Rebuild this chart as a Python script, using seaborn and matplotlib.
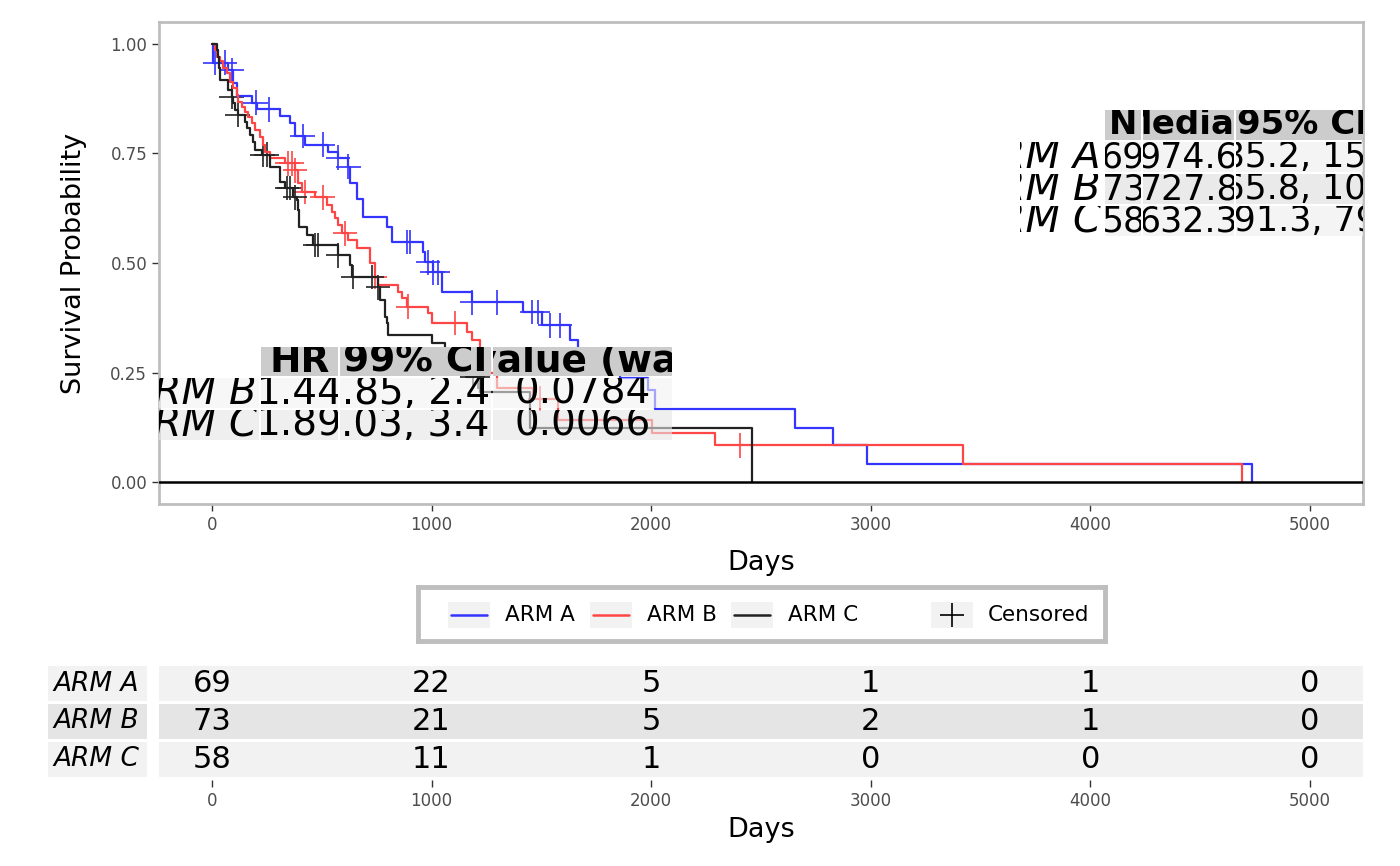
import numpy as np
import pandas as pd
import matplotlib
matplotlib.use("Agg")
import matplotlib.pyplot as plt
from matplotlib.patches import Rectangle
import seaborn as sns

# curvas KM: tiempo del escalon y supervivencia despues del escalon
arm_a_time = [0, 5, 73, 96, 114, 182, 205, 310, 355, 378, 424, 528, 574, 619, 628, 660, 688, 797,
              820, 961, 970, 1006, 1047, 1184, 1416, 1503, 1630, 1667, 1767, 1858, 1985, 2017,
              2655, 2828, 2983, 4736]
arm_a_surv = [1.0, 0.957, 0.94, 0.91, 0.88, 0.866, 0.851, 0.836, 0.82, 0.79, 0.77, 0.753, 0.74,
              0.72, 0.683, 0.645, 0.605, 0.582, 0.548, 0.525, 0.502, 0.479, 0.434, 0.41, 0.388,
              0.358, 0.324, 0.29, 0.26, 0.237, 0.21, 0.167, 0.123, 0.084, 0.042, 0.0]
arm_a_cens = [14, 59, 91, 200, 260, 414, 505, 574, 620, 888, 902, 984, 1006, 1029, 1184, 1298,
              1457, 1484, 1539, 1585]

arm_b_time = [0, 14, 23, 36, 50, 68, 82, 96, 114, 118, 137, 150, 164, 182, 196, 219, 232, 241,
              264, 332, 378, 392, 410, 469, 524, 546, 560, 574, 592, 619, 660, 719, 742, 756,
              847, 865, 888, 984, 1002, 1161, 1184, 1220, 1266, 1298, 1462, 1576, 2004, 2290,
              3420, 4690]
arm_b_surv = [1.0, 0.985, 0.97, 0.96, 0.945, 0.934, 0.913, 0.9, 0.884, 0.868, 0.856, 0.845,
              0.833, 0.82, 0.804, 0.788, 0.77, 0.753, 0.74, 0.728, 0.712, 0.683, 0.662, 0.65,
              0.632, 0.616, 0.603, 0.587, 0.568, 0.553, 0.534, 0.5, 0.468, 0.45, 0.434, 0.42,
              0.4, 0.386, 0.363, 0.342, 0.324, 0.28, 0.25, 0.215, 0.19, 0.142, 0.112, 0.084,
              0.042, 0.0]
arm_b_cens = [346, 364, 378, 424, 505, 606, 742, 893, 1107, 1494, 2404]

arm_c_time = [0, 23, 27, 30, 36, 73, 91, 96, 105, 118, 150, 159, 173, 187, 196, 228, 264, 310,
              332, 369, 387, 392, 396, 433, 460, 574, 628, 637, 756, 765, 788, 797, 801, 1002,
              1061, 1129, 1161, 1220, 1448, 2459]
arm_c_surv = [1.0, 0.985, 0.97, 0.945, 0.918, 0.895, 0.879, 0.865, 0.849, 0.838, 0.822, 0.808,
              0.792, 0.776, 0.758, 0.747, 0.719, 0.685, 0.671, 0.65, 0.644, 0.621, 0.582, 0.564,
              0.541, 0.518, 0.495, 0.468, 0.445, 0.416, 0.377, 0.363, 0.336, 0.317, 0.29, 0.26,
              0.24, 0.205, 0.123, 0.0]
arm_c_cens = [91, 118, 232, 250, 342, 355, 378, 469, 483, 574, 642, 729, 756, 1188, 1211]

arms = ["ARM A", "ARM B", "ARM C"]
colores = ["#3434FF", "#FF4646", "#222222"]

# tabla de riesgo
risk_times = [0, 1000, 2000, 3000, 4000, 5000]
risk_a = [69, 22, 5, 1, 1, 0]
risk_b = [73, 21, 5, 2, 1, 0]
risk_c = [58, 11, 1, 0, 0, 0]

# tabla de medianas
med_cols = ["N", "Median", "95% CI"]
med_n = ["69", "73", "58"]
med_median = ["974.6", "727.8", "632.3"]
med_ci = ["(685.2, 1503.2)", "(565.8, 1006.8)", "(391.3, 792.1)"]

# tabla HR
hr_cols = ["HR", "99% CI", "p-value (wald)"]
hr_arms = ["ARM B", "ARM C"]
hr_val = ["1.44", "1.89"]
hr_ci = ["(0.85, 2.45)", "(1.03, 3.45)"]
hr_p = ["0.0784", "0.0066"]

sns.set_style("white")
plt.rcParams["font.family"] = ["DejaVu Sans"]
plt.rcParams["text.color"] = "black"
plt.rcParams["axes.labelcolor"] = "black"

W, H = 1400, 866
fig = plt.figure(figsize=(14, 8.66), dpi=100)

# panel principal (pixeles 159-1363 x 22-504)
PX0, PX1, PY0, PY1 = 159, 1363, 22, 504
ax = fig.add_axes([PX0 / W, 1 - PY1 / H, (PX1 - PX0) / W, (PY1 - PY0) / H])

curvas = pd.concat([
    pd.DataFrame({"time": t, "surv": s, "arm": a})
    for t, s, a in zip([arm_a_time, arm_b_time, arm_c_time],
                       [arm_a_surv, arm_b_surv, arm_c_surv], arms)
])


def surv_at(times, survs, c):
    i = np.searchsorted(times, c, side="right") - 1
    return survs[i]


cens = pd.concat([
    pd.DataFrame({"time": cs, "surv": [surv_at(t, s, c) for c in cs], "arm": a})
    for t, s, cs, a in zip([arm_a_time, arm_b_time, arm_c_time],
                           [arm_a_surv, arm_b_surv, arm_c_surv],
                           [arm_a_cens, arm_b_cens, arm_c_cens], arms)
])

pal = dict(zip(arms, colores))
sns.lineplot(data=curvas, x="time", y="surv", hue="arm", palette=pal, estimator=None,
             sort=False, drawstyle="steps-post", linewidth=1.6, legend=False, ax=ax)
sns.scatterplot(data=cens, x="time", y="surv", hue="arm", palette=pal, marker="+", s=320,
                linewidth=1.2, legend=False, ax=ax)
ax.axhline(0, color="black", lw=1.8, zorder=8)

ax.set_xlim(-241, 5241)
ax.set_ylim(-0.05, 1.05)
ax.set_xticks(risk_times)
ax.set_yticks([0, 0.25, 0.5, 0.75, 1.0])
ax.set_yticklabels(["0.00", "0.25", "0.50", "0.75", "1.00"])
ax.tick_params(colors="#333333", labelcolor="#4D4D4D", labelsize=12, length=5, width=1,
               direction="out", bottom=True, left=True)
ax.set_xlabel("Days", fontsize=19.5)
ax.set_ylabel("Survival Probability", fontsize=19.5)
ax.xaxis.set_label_coords(0.5, -0.096)
ax.yaxis.set_label_coords(-0.06, 0.5)
for sp in ax.spines.values():
    sp.set_color("#BEBEBE")
    sp.set_linewidth(2)


def fx(px):
    return (px - PX0) / (PX1 - PX0)


def fy(py):
    return (PY1 - py) / (PY1 - PY0)


def celda(x0, x1, y0, y1, texto, bg=None, alpha=1.0, ha="center", clip_x0=None, **kw):
    if bg is not None:
        ax.add_patch(Rectangle((fx(x0), fy(y1)), fx(x1) - fx(x0), fy(y0) - fy(y1),
                               transform=ax.transAxes, facecolor=bg, edgecolor="none",
                               alpha=alpha, zorder=5, clip_on=True))
    # recorte a la celda y al panel
    cx0 = max(x0 if clip_x0 is None else clip_x0, PX0)
    cx1 = min(x1, PX1)
    clip = Rectangle((fx(cx0), fy(y1)), fx(cx1) - fx(cx0), fy(y0) - fy(y1),
                     transform=ax.transAxes)
    xt = {"center": (x0 + x1) / 2, "right": x1 - 2, "left": x0 + 2}[ha]
    t = ax.text(fx(xt), fy((y0 + y1) / 2), texto, transform=ax.transAxes,
                ha=ha, va="center", zorder=6, clip_on=True, **kw)
    t.set_clip_path(clip)


row_bg = ["#F2F2F2", "#E5E5E5", "#F2F2F2"]
# tabla de medianas (arriba a la derecha)
med_hx = [(1105, 1141), (1143, 1234), (1236, 1368)]
med_x = [(1105, 1141), (1143, 1234), (1236, 1408)]
med_y = [(110, 140), (142, 172), (174, 204), (206, 236)]
for j, c in enumerate(med_cols):
    celda(*med_hx[j], *med_y[0], c, bg="#CCCCCC", fontsize=24.5, fontweight="bold")
for i in range(3):
    celda(1015, 1103, *med_y[i + 1], arms[i], ha="right", clip_x0=1020, fontsize=29,
          fontstyle="italic")
    for j, v in enumerate([med_n[i], med_median[i], med_ci[i]]):
        celda(*med_x[j], *med_y[i + 1], v, bg=row_bg[i], alpha=0.8, fontsize=25)

# tabla HR (abajo a la izquierda)
hr_bg = ["#F2F2F2", "#E5E5E5"]
hr_x = [(261, 338), (340, 491), (493, 672)]
hr_y = [(347, 376), (378, 408), (410, 440)]
for j, c in enumerate(hr_cols):
    celda(*hr_x[j], *hr_y[0], c, bg="#CCCCCC", fontsize=27, fontweight="bold")
for i in range(2):
    celda(100, 259, *hr_y[i + 1], hr_arms[i], bg=hr_bg[i], alpha=0.6, ha="right",
          fontsize=29, fontstyle="italic")
    for j, v in enumerate([hr_val[i], hr_ci[i], hr_p[i]]):
        celda(*hr_x[j], *hr_y[i + 1], v, bg=hr_bg[i], alpha=0.6, fontsize=28)

# leyenda
LX0, LX1, LY0, LY1 = 418, 1105, 587, 641
lax = fig.add_axes([LX0 / W, 1 - LY1 / H, (LX1 - LX0) / W, (LY1 - LY0) / H])
lax.set_xlim(0, LX1 - LX0)
lax.set_ylim(LY1 - LY0, 0)
lax.set_xticks([])
lax.set_yticks([])
for sp in lax.spines.values():
    sp.set_color("#BEBEBE")
    sp.set_linewidth(3.5)
key_x = [30, 172, 313, 513]
etiquetas = arms + ["Censored"]
for k, (kx, lab) in enumerate(zip(key_x, etiquetas)):
    lax.add_patch(Rectangle((kx, 15), 42, 26, facecolor="#F2F2F2", edgecolor="none"))
    if k < 3:
        lax.plot([kx + 3, kx + 39], [28, 28], color=colores[k], lw=1.8)
    else:
        lax.plot([kx + 21], [28], marker="+", color="black", ms=17, mew=1.2)
    lax.text(kx + 57, 28, lab, fontsize=15.5, va="center", ha="left")

# tabla de riesgo
RY0, RY1 = 663, 780
rax = fig.add_axes([PX0 / W, 1 - RY1 / H, (PX1 - PX0) / W, (RY1 - RY0) / H])
rax.set_xlim(-241, 5241)
rax.set_ylim(3.05, -0.05)
for i, fila in enumerate([risk_a, risk_b, risk_c]):
    rax.axhspan(i + 0.03, i + 0.97, color=row_bg[i], lw=0)
    for t, v in zip(risk_times, fila):
        rax.text(t, i + 0.5, str(v), ha="center", va="center", fontsize=22)
rax.set_xticks(risk_times)
rax.set_yticks([])
rax.tick_params(axis="x", colors="#333333", labelcolor="#4D4D4D", labelsize=12, length=5,
                width=1, direction="out", bottom=True)
for sp in rax.spines.values():
    sp.set_visible(False)
rax.set_xlabel("Days", fontsize=19.5)
rax.xaxis.set_label_coords(0.5, -0.32)

lbl = fig.add_axes([48 / W, 1 - RY1 / H, 99 / W, (RY1 - RY0) / H])
lbl.set_xlim(0, 1)
lbl.set_ylim(3.05, -0.05)
lbl.axis("off")
for i, a in enumerate(arms):
    lbl.axhspan(i + 0.03, i + 0.97, color=row_bg[i], lw=0)
    lbl.text(0.05, i + 0.5, a, fontsize=19, fontstyle="italic", ha="left", va="center")

fig.savefig("out.png", dpi=100, facecolor="white")
